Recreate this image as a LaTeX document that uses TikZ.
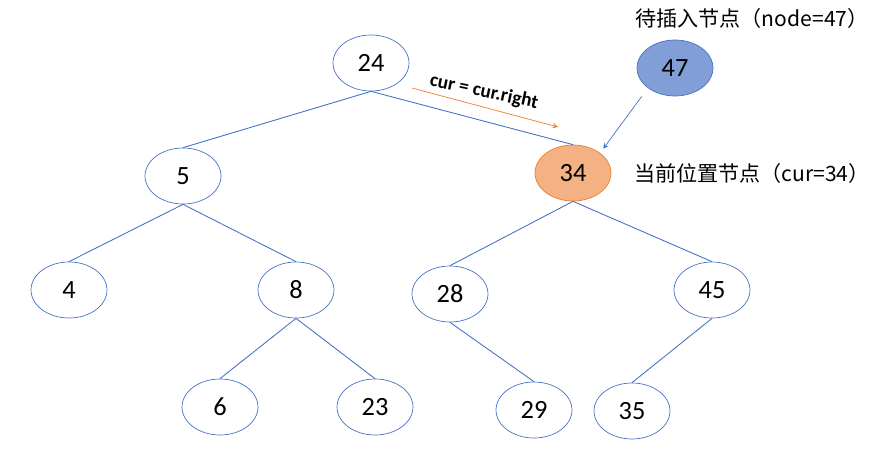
\documentclass[tikz,border=0pt]{standalone}
\usepackage{fontspec}
\setmainfont{Carlito}
\newfontfamily\cjk{Noto Sans CJK SC}
\usetikzlibrary{shapes.geometric}
\definecolor{edgeblue}{RGB}{68,114,196}
\definecolor{curorange}{RGB}{244,177,131}
\definecolor{curline}{RGB}{237,125,49}
\definecolor{newblue}{RGB}{130,158,214}
\tikzset{
  treenode/.style={ellipse, draw=edgeblue, minimum width=1.52cm, minimum height=1.12cm, font=\fontsize{15}{17}\selectfont},
  branch/.style={draw=edgeblue, line width=0.5pt}
}
\begin{document}
\begin{tikzpicture}[x=0.02cm,y=-0.02cm]
            \useasboundingbox (0,0) rectangle (887,450);
            % tree nodes
            \node[treenode] (n24) at (371,63) {24};
            \node[treenode] (n5) at (183,176) {5};
            \node[treenode, fill=curorange, draw=curline] (n34) at (573,173) {34};
            \node[treenode, fill=newblue] (n47) at (675,68) {47};
            \node[treenode] (n4) at (69,290) {4};
            \node[treenode] (n8) at (296,290) {8};
            \node[treenode] (n28) at (450,294) {28};
            \node[treenode] (n45) at (712,290) {45};
            \node[treenode] (n6) at (220,407) {6};
            \node[treenode] (n23) at (375,407) {23};
            \node[treenode] (n29) at (534,410) {29};
            \node[treenode] (n35) at (632,411) {35};

            % labels
            \node (lblnew) at (752,18) {\cjk\fontsize{12}{14}\selectfont 待插入节点（node=47）};
            \node (lblcur) at (752,173) {\cjk\fontsize{12}{14}\selectfont 当前位置节点（cur=34）};
            \node[rotate=-12, font=\bfseries\fontsize{11}{13}\selectfont] (lblmove) at (484,92) {cur = cur.right};

            % branches
            \draw[branch] (n24.south) -- (n5.north);
            \draw[branch] (n24.south) -- (n34.north);
            \draw[branch] (n5.south) -- (n4.north);
            \draw[branch] (n5.south) -- (n8.north);
            \draw[branch] (n8.south) -- (n6.north);
            \draw[branch] (n8.south) -- (n23.north);
            \draw[branch] (n34.south) -- (n28.north);
            \draw[branch] (n34.south) -- (n45.north);
            \draw[branch] (n28.south) -- (n29.north);
            \draw[branch] (n45.south) -- (n35.north);

            % arrows
            \coordinate (movefrom) at (412,88);
            \coordinate (moveto) at (558,127);
            \draw[curline, ->, >=stealth] (movefrom) -- (moveto);
            \draw[edgeblue, ->, >=stealth, shorten <=6pt, shorten >=3pt] (n47.south west) -- (n34.north east);
\end{tikzpicture}
\end{document}
